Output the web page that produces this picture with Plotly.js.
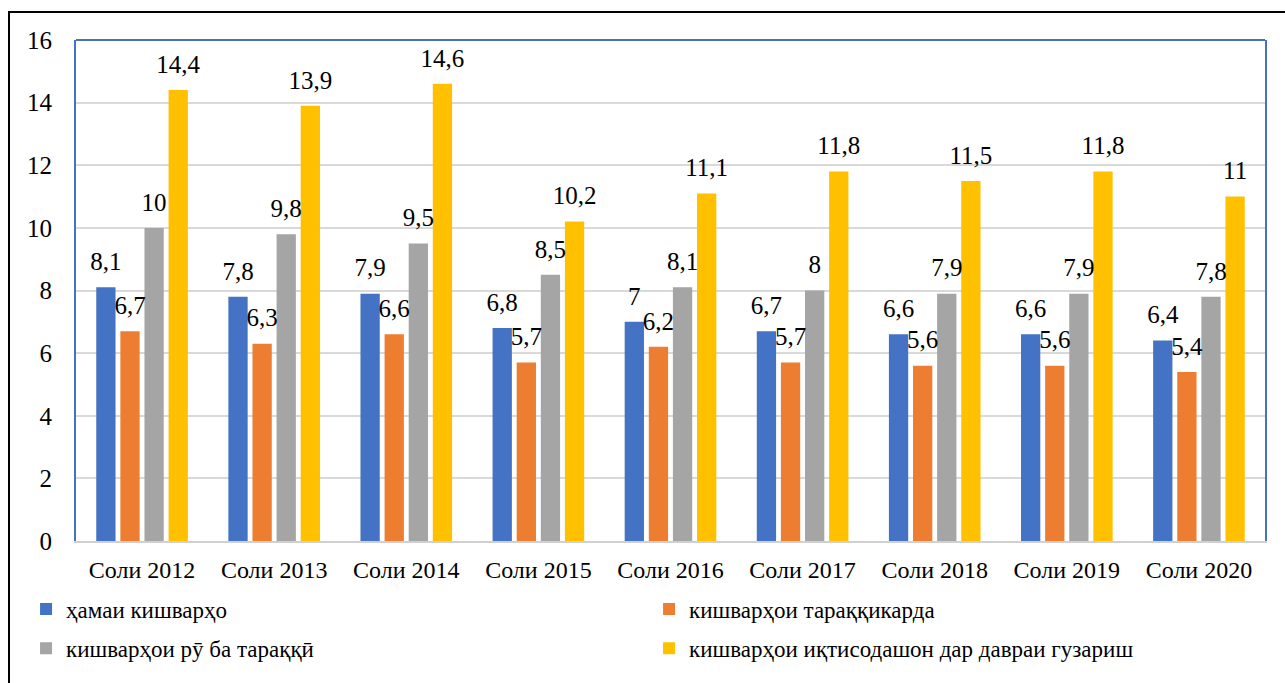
<!DOCTYPE html>
<html>
<head>
<meta charset="utf-8">
<script src="https://cdn.plot.ly/plotly-3.0.1.min.js"></script>
<style>
  html, body { margin: 0; padding: 0; background: #fff; overflow: hidden; }
  #wrap { position: relative; width: 1285px; height: 683px; overflow: hidden; }
  #chart { width: 1285px; height: 683px; }
  #frame { position: absolute; left: 8px; top: 11px; width: 1400px; height: 800px;
           border: 2px solid #000; pointer-events: none; box-sizing: border-box; }
</style>
</head>
<body>
<div id="wrap">
  <div id="chart"></div>
  <div id="frame"></div>
</div>
<script>
// ---- data ----
const categories = ['Соли 2012', 'Соли 2013', 'Соли 2014', 'Соли 2015', 'Соли 2016',
                    'Соли 2017', 'Соли 2018', 'Соли 2019', 'Соли 2020'];
const seriesNames = ['ҳамаи кишварҳо', 'кишварҳои тараққикарда',
                     'кишварҳои рӯ ба тараққӣ', 'кишварҳои иқтисодашон дар давраи гузариш'];
const allCountries = [8.1, 7.8, 7.9, 6.8, 7, 6.7, 6.6, 6.6, 6.4];
const developed    = [6.7, 6.3, 6.6, 5.7, 6.2, 5.7, 5.6, 5.6, 5.4];
const developing   = [10, 9.8, 9.5, 8.5, 8.1, 8, 7.9, 7.9, 7.8];
const transition   = [14.4, 13.9, 14.6, 10.2, 11.1, 11.8, 11.5, 11.8, 11];
const yTicks = [0, 2, 4, 6, 8, 10, 12, 14, 16];

const seriesValues = [allCountries, developed, developing, transition];
const colors = ['#4472C4', '#ED7D31', '#A5A5A5', '#FFC000'];
const legendIds = ['legend', 'legend', 'legend2', 'legend2'];
const FONT = "'Liberation Serif', 'Times New Roman', serif";
const fmt = v => String(v).replace('.', ',');

const traces = [];
seriesValues.forEach((vals, i) => {
  traces.push({
    type: 'bar', x: categories, y: vals, name: seriesNames[i],
    marker: { color: colors[i] }, legend: legendIds[i], hoverinfo: 'x+y+name'
  });
});
seriesValues.forEach((vals, i) => {
  traces.push({
    type: 'scatter', mode: 'markers+text', x: categories, y: vals,
    text: vals.map(fmt), textposition: 'top center',
    textfont: { family: FONT, size: 25, color: '#000' },
    marker: { size: 16, color: 'rgba(0,0,0,0)' },
    showlegend: false, hoverinfo: 'skip', cliponaxis: false
  });
});

const legendBase = {
  orientation: 'h', xref: 'paper', yref: 'paper',
  x: -0.042, xanchor: 'left', yanchor: 'middle',
  entrywidth: 578, entrywidthmode: 'pixels',
  font: { family: FONT, size: 23, color: '#000' }, bgcolor: 'rgba(0,0,0,0)'
};

const layout = {
  width: 1285, height: 683,
  paper_bgcolor: '#fff', plot_bgcolor: '#fff',
  margin: { l: 76, r: 20, t: 40, b: 142 },
  barmode: 'group', bargap: 0.27, bargroupgap: 0.2,
  scattermode: 'group', scattergap: 0.27,
  font: { family: FONT, size: 24, color: '#000' },
  xaxis: {
    type: 'category', showline: true, linecolor: '#d0d0d0', linewidth: 2,
    ticks: '', ticklabelstandoff: 6,
    tickfont: { family: FONT, size: 24, color: '#000' }, showgrid: false
  },
  yaxis: {
    range: [0, 16], tickvals: yTicks, ticktext: yTicks.map(String),
    showgrid: true, gridcolor: '#d9d9d9', gridwidth: 2, zeroline: false,
    showline: true, mirror: true, linecolor: '#4472C4', linewidth: 2,
    ticks: '', ticklabelstandoff: 17,
    tickfont: { family: FONT, size: 25, color: '#000' }
  },
  shapes: [{ type: 'line', xref: 'paper', yref: 'paper', x0: 0, x1: 1, y0: 1, y1: 1,
             line: { color: '#4472C4', width: 2 } }],
  legend: Object.assign({}, legendBase, { y: -0.136 }),
  legend2: Object.assign({}, legendBase, { y: -0.214 }),
  showlegend: true
};

Plotly.newPlot('chart', traces, layout, { displayModeBar: false, staticPlot: true });
</script>
</body>
</html>
